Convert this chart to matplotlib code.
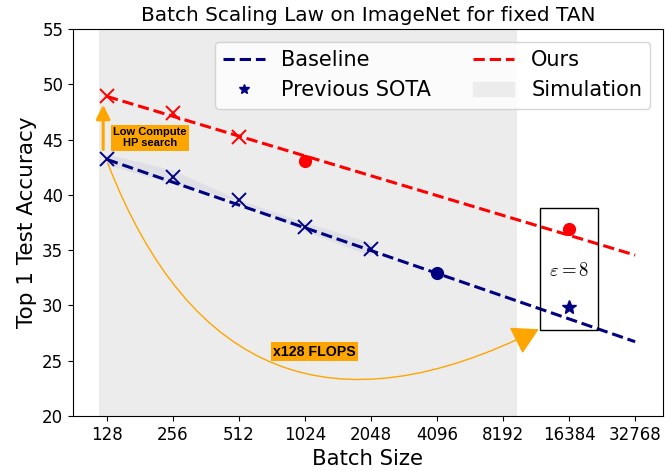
import matplotlib
matplotlib.use('Agg')
import matplotlib.pyplot as plt
from matplotlib.lines import Line2D
from matplotlib.patches import Patch, Rectangle
import numpy as np

# ---- data ----
tick_sizes = [128, 256, 512, 1024, 2048, 4096, 8192, 16384, 32768]
tick_labels = [str(t) for t in tick_sizes]

ours_x = [128, 256, 512]
ours_y = [48.9, 47.37, 45.25]
ours_dot_x = [1024, 16384]
ours_dot_y = [43.06, 36.88]
ours_fit_x = [128, 32768]
ours_fit_y = [48.9, 34.55]

base_x = [128, 256, 512, 1024, 2048]
base_y = [43.2, 41.64, 39.5, 37.12, 35.07]
base_err = [0.5, 0.6, 0.05, 0.4, 0.6]
base_dot_x = [4096]
base_dot_y = [32.93]
base_fit_x = [128, 32768]
base_fit_y = [43.2, 26.72]

sota_x = [16384]
sota_y = [29.83]

sim_range = [118, 9480]

plt.rcParams['mathtext.fontset'] = 'cm'

fig = plt.figure(figsize=(6.65, 4.71), dpi=100)
ax = fig.add_axes([73/665, 55/471, 590/665, 387/471])

ax.axvspan(sim_range[0], sim_range[1], color='#ececec', zorder=0, lw=0)

lo = np.array(base_y) - np.array(base_err)
hi = np.array(base_y) + np.array(base_err)
ax.fill_between(base_x, lo, hi, color='navy', alpha=0.05, lw=0, zorder=1)

ax.plot(base_fit_x, base_fit_y, '--', color='navy', lw=2.2, zorder=2)
ax.plot(ours_fit_x, ours_fit_y, '--', color='red', lw=2.2, zorder=2)

ax.plot(base_x, base_y, 'x', color='navy', ms=10, mew=1.4, zorder=3)
ax.plot(ours_x, ours_y, 'x', color='red', ms=10, mew=1.4, zorder=3)
ax.plot(ours_dot_x, ours_dot_y, 'o', color='red', ms=8.5, zorder=3)
ax.plot(base_dot_x, base_dot_y, 'o', color='navy', ms=8.5, zorder=3)
ax.plot(sota_x, sota_y, '*', color='navy', ms=10, zorder=3)

# epsilon box
ax.add_patch(Rectangle((12080, 27.78), 22260 - 12080, 38.78 - 27.78,
                       fill=False, edgecolor='black', lw=1, zorder=4))
ax.text(np.sqrt(12080 * 22260), 33.2, r'$\varepsilon = 8$', fontsize=13.5,
        ha='center', va='center', zorder=5)

# vertical arrow
ax.annotate('', xy=(123, 48.15), xytext=(123, 44.1),
            arrowprops=dict(arrowstyle='-|>,head_length=0.6,head_width=0.3',
                            color='orange', lw=2.2, mutation_scale=14,
                            shrinkA=0, shrinkB=0), zorder=4)
ax.text(201, 45.18, 'Low Compute\nHP search', fontsize=8, fontweight='bold',
        family='Liberation Sans', ha='center', va='center', linespacing=1.15,
        bbox=dict(boxstyle='square,pad=0.22', fc='orange', ec='none'), zorder=5)

# curved arrow
ax.annotate('', xy=(11900, 27.85), xytext=(129, 42.87),
            arrowprops=dict(arrowstyle='-|>,head_length=0.83,head_width=0.47',
                            color='orange', lw=1, mutation_scale=20,
                            connectionstyle='arc3,rad=0.55',
                            shrinkA=0, shrinkB=0), zorder=4)
ax.text(1131, 25.83, 'x128 FLOPS', fontsize=10.2, fontweight='bold',
        family='Liberation Sans', ha='center', va='center',
        bbox=dict(boxstyle='square,pad=0.15', fc='orange', ec='none'), zorder=5)

ax.set_xscale('log', base=2)
ax.set_xticks(tick_sizes)
ax.set_xticklabels(tick_labels)
ax.xaxis.set_minor_locator(matplotlib.ticker.NullLocator())
ax.set_xlim(89.6, 43900)
ax.set_ylim(20, 55)
ax.tick_params(labelsize=12)

ax.set_xlabel('Batch Size', fontsize=15.3)
ax.set_ylabel('Top 1 Test Accuracy', fontsize=15.5)
ax.set_title('Batch Scaling Law on ImageNet for fixed TAN', fontsize=14.4)

handles = [
    Line2D([], [], ls='--', color='navy', lw=2.2),
    Line2D([], [], ls='none', marker='*', color='navy', ms=7),
    Line2D([], [], ls='--', color='red', lw=2.2),
    Patch(color='#ececec'),
]
labels = ['Baseline', 'Previous SOTA', 'Ours', 'Simulation']
ax.legend(handles, labels, ncol=2, loc='upper right', fontsize=15,
          borderaxespad=0.6)

fig.savefig('out.png', dpi=100)
